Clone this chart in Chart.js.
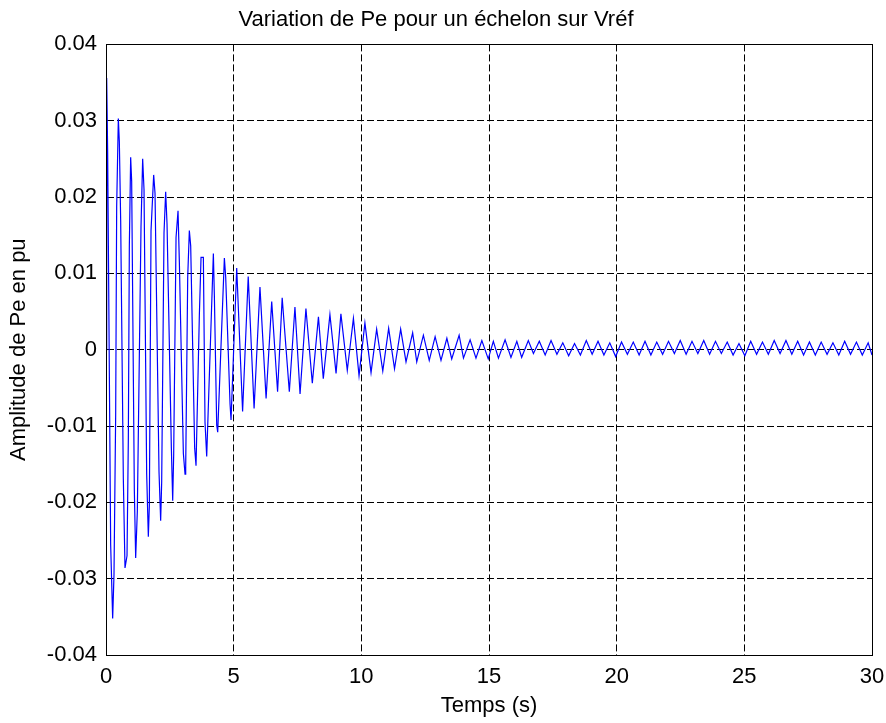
<!DOCTYPE html>
<html>
<head>
<meta charset="utf-8">
<script src="https://cdn.jsdelivr.net/npm/chart.js@4/dist/chart.umd.min.js"></script>
<style>
  html, body { margin: 0; padding: 0; background: #ffffff; }
  #wrap { width: 886px; height: 723px; }
</style>
</head>
<body>
<div id="wrap"><canvas id="c" width="886" height="723"></canvas></div>
<script>
// Time (s) of each read sample of Pe
const tSec = [
  0, 0.027, 0.065, 0.183, 0.261, 0.313, 0.379, 0.418, 0.483, 0.522, 0.575,
  0.679, 0.744, 0.823, 0.875, 0.914, 0.966, 1.005, 1.110, 1.162, 1.227,
  1.371, 1.436, 1.489, 1.593, 1.658, 1.698, 1.763, 1.867, 1.920, 2.076,
  2.141, 2.181, 2.272, 2.337, 2.390, 2.560, 2.612, 2.651, 2.743, 2.821,
  2.873, 3.030, 3.095, 3.121, 3.200, 3.264, 3.317, 3.473, 3.526, 3.656,
  3.722, 3.813, 3.878, 3.944, 4.205, 4.244, 4.336, 4.375, 4.636, 4.688,
  4.858, 4.897, 5.119,
  5.35, 5.57, 5.80, 6.03, 6.27, 6.49, 6.72, 6.90, 7.18, 7.40, 7.60, 7.83,
  8.08, 8.32, 8.51, 8.77, 9.01, 9.20, 9.45, 9.69, 9.91, 10.14, 10.38, 10.60,
  10.84, 11.07, 11.30, 11.54, 11.75, 12.01, 12.17, 12.43, 12.66, 12.89,
  13.12, 13.35, 13.54, 13.83, 14.00, 14.26, 14.49, 14.72, 14.97, 15.17,
  15.37, 15.63, 15.86, 16.09, 16.28, 16.54, 16.74,
  16.97, 17.20, 17.43, 17.66, 17.89, 18.12, 18.35, 18.58, 18.81, 19.04,
  19.27, 19.50, 19.73, 19.96, 20.19, 20.42, 20.65, 20.88, 21.11, 21.34,
  21.57, 21.80, 22.03, 22.26, 22.49, 22.72, 22.95, 23.18, 23.41, 23.64,
  23.87, 24.10, 24.33, 24.56, 24.79, 25.02, 25.25, 25.48, 25.71, 25.94,
  26.17, 26.40, 26.63, 26.86, 27.09, 27.32, 27.55, 27.78, 28.01, 28.24,
  28.47, 28.70, 28.93, 29.16, 29.39, 29.62, 29.85, 30.00
];
// Pe amplitude (pu) at those times
const pe = [
  0, 0.0356, 0.0258, -0.0256, -0.0352, -0.0295, -0.0084, 0.0187, 0.0303, 0.0273, 0.0169,
  -0.0169, -0.0286, -0.0270, -0.0116, 0.0136, 0.0252, 0.0221, -0.0184, -0.0273, -0.0212,
  0.0161, 0.0250, 0.0210, -0.0163, -0.0245, -0.0204, 0.0156, 0.0229, 0.0205, -0.0160,
  -0.0224, -0.0173, 0.0153, 0.0207, 0.0165, -0.0129, -0.0198, -0.0137, 0.0147, 0.0182,
  0.0115, -0.0136, -0.0163, -0.0155, 0.0095, 0.0156, 0.0136, -0.0129, -0.0152, 0.0045,
  0.0121, 0.0121, -0.0095, -0.0140, 0.0126, 0.0071, -0.0099, -0.0108, 0.0120, 0.0095,
  -0.0071, -0.0092, 0.0107,
  -0.0081, 0.0096, -0.0077, 0.0082, -0.0064, 0.0063, -0.0055, 0.0068, -0.0055, 0.0056, -0.0058, 0.0054,
  -0.0044, 0.0043, -0.0038, 0.0046, -0.0031, 0.0047, -0.0027, 0.0041, -0.0034, 0.0035, -0.0030, 0.0027,
  -0.0028, 0.0028, -0.0025, 0.0027, -0.0016, 0.0022, -0.0016, 0.0019, -0.0014, 0.0017,
  -0.0014, 0.0015, -0.0012, 0.0019, -0.0011, 0.0013, -0.0011, 0.0012, -0.0012, 0.0011,
  -0.0011, 0.0013, -0.0010, 0.0011, -0.0010, 0.0012, -0.0005,
  0.0011, -0.0007, 0.0012, -0.0006, 0.0009, -0.0008, 0.0008, -0.0007, 0.0012, -0.0006,
  0.0011, -0.0007, 0.0009, -0.0009, 0.0010, -0.0006, 0.0010, -0.0007, 0.0011, -0.0007,
  0.0010, -0.0006, 0.0011, -0.0005, 0.0012, -0.0006, 0.0011, -0.0005, 0.0012, -0.0006,
  0.0011, -0.0005, 0.0010, -0.0007, 0.0008, -0.0008, 0.0011, -0.0006, 0.0010, -0.0006,
  0.0012, -0.0005, 0.0012, -0.0006, 0.0011, -0.0007, 0.0010, -0.0007, 0.0010, -0.0006,
  0.0009, -0.0007, 0.0011, -0.0006, 0.0010, -0.0007, 0.0009, -0.0007
];
const xTicks = [0, 5, 10, 15, 20, 25, 30];
const yTicks = [-0.04, -0.03, -0.02, -0.01, 0, 0.01, 0.02, 0.03, 0.04];
const yTickLabels = ['-0.04', '-0.03', '-0.02', '-0.01', '0', '0.01', '0.02', '0.03', '0.04'];
const titleText = 'Variation de Pe pour un échelon sur Vréf';
const xTitle = 'Temps (s)';
const yTitle = 'Amplitude de Pe en pu';

const points = tSec.map((t, i) => ({ x: t, y: pe[i] }));
const FONT = 'Liberation Sans, Arial, Helvetica, sans-serif';

const boxPlugin = {
  id: 'box',
  afterDraw(chart) {
    const { ctx, chartArea: a } = chart;
    ctx.save();
    ctx.setLineDash([]);
    ctx.strokeStyle = '#000000';
    ctx.lineWidth = 1;
    ctx.strokeRect(Math.round(a.left) + 0.5, Math.round(a.top) + 0.5,
                   Math.round(a.right - a.left), Math.round(a.bottom - a.top));
    ctx.restore();
  }
};

new Chart(document.getElementById('c'), {
  type: 'line',
  data: {
    datasets: [{
      data: points,
      borderColor: '#0000ff',
      borderWidth: 1.2,
      pointRadius: 0,
      tension: 0,
      fill: false
    }]
  },
  options: {
    responsive: false,
    animation: false,
    events: [],
    layout: { padding: { left: 0, right: 14, top: 0, bottom: 0 } },
    plugins: {
      legend: { display: false },
      tooltip: { enabled: false },
      title: {
        display: true,
        text: titleText,
        color: '#000000',
        font: { family: FONT, size: 22, weight: 'normal' },
        padding: { top: 7, bottom: 11 }
      }
    },
    scales: {
      x: {
        type: 'linear',
        min: 0, max: 30,
        afterBuildTicks: (s) => { s.ticks = xTicks.map(v => ({ value: v })); },
        afterFit: (s) => { s.height = 68; s.paddingLeft = 0; s.paddingRight = 0; },
        ticks: {
          color: '#000000',
          font: { family: FONT, size: 22 },
          padding: 9,
          maxRotation: 0,
          callback: (v) => String(v)
        },
        grid: { color: '#000000', lineWidth: 1, drawTicks: false, borderDash: [7, 3] },
        border: { display: true, color: '#000000', width: 1, dash: [7, 3] },
        title: {
          display: true, text: xTitle, color: '#000000',
          font: { family: FONT, size: 22 },
          padding: { top: 0, bottom: 4 }
        }
      },
      y: {
        type: 'linear',
        min: -0.04, max: 0.04,
        afterBuildTicks: (s) => { s.ticks = yTicks.map(v => ({ value: v })); },
        afterFit: (s) => { s.width = 106; s.paddingTop = 0; s.paddingBottom = 0; },
        ticks: {
          color: '#000000',
          font: { family: FONT, size: 22 },
          padding: 9,
          callback: (v) => {
            const i = yTicks.findIndex(t => Math.abs(t - v) < 1e-9);
            return i >= 0 ? yTickLabels[i] : '';
          }
        },
        grid: { color: '#000000', lineWidth: 1, drawTicks: false, borderDash: [7, 3] },
        border: { display: true, color: '#000000', width: 1, dash: [7, 3] },
        title: {
          display: true, text: yTitle, color: '#000000',
          font: { family: FONT, size: 22 },
          padding: { top: 6, bottom: 0 }
        }
      }
    }
  },
  plugins: [boxPlugin]
});
</script>
</body>
</html>
